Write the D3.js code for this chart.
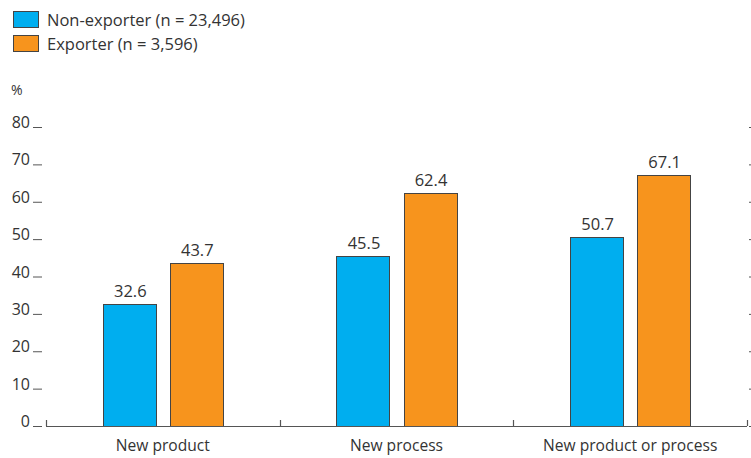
<!DOCTYPE html>
<html><head><meta charset="utf-8">
<script src="https://cdn.jsdelivr.net/npm/d3@7"></script>
<style>body{margin:0;background:#fff}svg{display:block}text{font-family:"Open Sans","Noto Sans",sans-serif;fill:#333}</style>
</head><body><svg id="c" width="751" height="458"></svg>
<script>
const categories = ["New product", "New process", "New product or process"];
const seriesNames = ["Non-exporter (n = 23,496)", "Exporter (n = 3,596)"];
const nonExporter = [32.6, 45.5, 50.7];
const exporter = [43.7, 62.4, 67.1];
const yTicks = [0, 10, 20, 30, 40, 50, 60, 70, 80];
const colors = ["#00AEEF", "#F7941D"];

const svg = d3.select("#c");
const left = 46, right = 747, y0 = 426, yTop = 127;
const x = d3.scaleBand().domain(categories).range([left, right]).padding(0);
const y = d3.scaleLinear().domain([0, 80]).range([y0, yTop]);
const inner = d3.scaleBand().domain([0, 1]).range([0, 120]).paddingInner(0.209);

// legend
seriesNames.forEach((s, i) => {
  svg.append("rect").attr("x", 13.5).attr("y", 11.5 + i * 24).attr("width", 25).attr("height", 16)
    .attr("fill", colors[i]).attr("stroke", "#444").attr("stroke-width", 1);
  svg.append("text").attr("x", 47).attr("y", 26 + i * 24).attr("font-size", 16.5).text(s);
});

// % label
svg.append("text").attr("x", 11).attr("y", 95).attr("font-size", 14).text("%");

// y ticks left
yTicks.forEach(t => {
  svg.append("text").attr("x", 30).attr("y", y(t) + 1).attr("text-anchor", "end").attr("font-size", 16).text(t);
  svg.append("line").attr("x1", 33).attr("x2", 42).attr("y1", y(t) + 0.5).attr("y2", y(t) + 0.5)
    .attr("stroke", "#555").attr("stroke-width", 1);
  svg.append("line").attr("x1", 749).attr("x2", 751).attr("y1", y(t) + 0.5).attr("y2", y(t) + 0.5)
    .attr("stroke", "#555").attr("stroke-width", 1);
});

// bars
const data = [nonExporter, exporter];
categories.forEach((c, ci) => {
  const cx = x(c) + x.bandwidth() / 2 - 60;
  data.forEach((arr, si) => {
    const v = arr[ci];
    const bx = cx + inner(si);
    svg.append("rect").attr("x", Math.round(bx) + 0.5).attr("y", Math.round(y(v)) + 0.5)
      .attr("width", Math.round(inner.bandwidth())).attr("height", Math.round(y0 - y(v)))
      .attr("fill", colors[si]).attr("stroke", "#444").attr("stroke-width", 1);
    svg.append("text").attr("x", bx + inner.bandwidth() / 2 + 1).attr("y", y(v) - 7)
      .attr("text-anchor", "middle").attr("font-size", 16.5).text(v.toFixed(1));
  });
  svg.append("text").attr("x", x(c) + x.bandwidth() / 2).attr("y", 451)
    .attr("text-anchor", "middle").attr("font-size", 15.6).text(c);
});

// x axis line and boundary ticks
svg.append("line").attr("x1", left).attr("x2", right).attr("y1", y0 + 0.5).attr("y2", y0 + 0.5)
  .attr("stroke", "#555").attr("stroke-width", 1.2);
[left, ...categories.map(c => x(c) + x.bandwidth())].forEach(b => {
  svg.append("line").attr("x1", Math.round(b) + 0.5).attr("x2", Math.round(b) + 0.5)
    .attr("y1", y0 - 6).attr("y2", y0).attr("stroke", "#555").attr("stroke-width", 1.2);
});
</script></body></html>
